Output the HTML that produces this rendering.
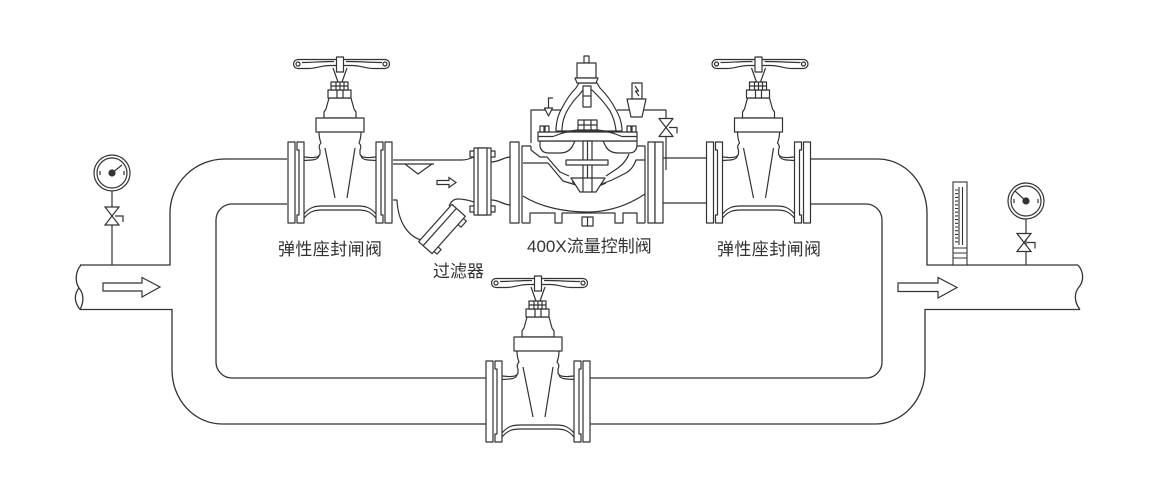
<!DOCTYPE html>
<html><head><meta charset="utf-8">
<style>
html,body{margin:0;padding:0;background:#fff;}
svg{display:block;}
text{font-family:"Liberation Sans","Noto Sans CJK SC",sans-serif;font-size:17px;fill:#333;}
</style></head><body>
<svg width="1158" height="500" viewBox="0 0 1158 500" xmlns="http://www.w3.org/2000/svg">
<defs>
<g id="gv" fill="#fff" stroke="#333" stroke-width="1.2" stroke-linejoin="round">
  <!-- body top / neck -->
  <path fill="none" d="M-36,-2 L-30,-1.5 Q-21,-1 -20,-5 L-20,-9 Q-22,-13 -19,-16 Q-21,-21 -21,-27 M21,-27 Q21,-21 19,-16 Q22,-13 20,-9 L20,-5 Q21,-1 30,-1.5 L36,-2"/>
  <path fill="none" d="M-36,1.5 L-28,1 Q-22,0.5 -21,-3 M36,1.5 L28,1 Q22,0.5 21,-3"/>
  <!-- wedge -->
  <path fill="none" d="M-15,-11 L-5,39 M15,-11 L7,39"/>
  <!-- bottom band -->
  <path fill="none" d="M-36,55 C-30,48 -25,47 -18,47 H18 C25,47 30,48 36,55 M-36,59 C-30,52 -25,51 -18,51 H18 C25,51 30,52 36,59"/>
  <!-- flanges -->
  <rect x="-52" y="-17" width="7" height="81"/>
  <path d="M-43,-17 H-36 V64 H-43 V56 H-41 V-9 H-43 Z"/>
  <path d="M36,-17 H43 V-9 H41 V56 H43 V64 H36 Z"/>
  <rect x="45" y="-17" width="7" height="81"/>
  <!-- upper body -->
  <path d="M-16,-41 L-16,-47 L-14,-50 L-11,-61 L11,-61 L14,-50 L16,-47 L16,-41 Z"/>
  <rect x="-24" y="-41" width="48" height="14"/>
  <rect x="-12" y="-69" width="23" height="8"/>
  <rect x="-9" y="-77" width="17" height="8"/>
  <path fill="none" d="M-4,-77 V-69 M0,-77 V-69 M4,-77 V-69 M-9,-73 H8 M-3,-69 V-61 M3,-69 V-61"/>
  <!-- stem V -->
  <path fill="none" d="M-7,-91 L-2,-77 M7,-91 L2,-77"/>
  <!-- handwheel -->
  <path d="M-42,-99.5 H45 A4.5,4.5 0 0 1 45,-90.5 H33 C27,-90.5 20,-93.5 12,-93.5 H-10 C-18,-93.5 -25,-90.5 -31,-90.5 H-42 A4.5,4.5 0 0 1 -42,-99.5 Z"/>
  <path fill="none" d="M-38,-96.5 C-28,-96.5 -20,-97.5 -6,-97.5 M6,-97.5 C20,-97.5 30,-96.5 42,-96.5"/>
  <circle cx="-42" cy="-95" r="2"/>
  <circle cx="45" cy="-95" r="2"/>
  <rect x="-3.5" y="-102" width="7" height="15"/>
</g>
<g id="bow" fill="#fff" stroke="#333" stroke-width="1.2">
  <path d="M-7,-9 H7 L-7,9 H7 Z"/>
  <path fill="none" d="M3,0 H11 V6"/>
</g>
</defs>

<!-- ===== PIPES ===== -->
<g fill="none" stroke="#333" stroke-width="1.3">
  <path d="M80,265 H170 V213 A55,54 0 0 1 225,159 H287"/>
  <path d="M80,309.5 H172 V370 A50,54 0 0 0 222,424 H486"/>
  <path d="M287,204 H232 A16,16 0 0 0 216,220 V362 A16,16 0 0 0 232,378 H486"/>
  <path d="M810,159 H878 A49,54 0 0 1 927,213 V265 H1078"/>
  <path d="M810,204 H866 A16,16 0 0 1 882,220 V362 A16,16 0 0 1 866,378 H590"/>
  <path d="M1080,309.5 H925 V370 A50,54 0 0 1 875,424 H590"/>
  <path d="M663,158 H707 M663,203 H707"/>
  <path d="M491,162 C500,162 503,157 511,157 M491,200 C500,200 503,205 511,205"/>
  <!-- pipe breaks -->
  <path d="M81,265 C75,272 75,282 79,288 C84,294 84,302 80,309.5 M79,288 C74,294 74,302 80,309.5"/>
  <path d="M1078,265 C1084,272 1084,281 1079,287 C1074,293 1074,302 1080,309.5"/>
</g>

<!-- arrows -->
<g fill="#fff" stroke="#333" stroke-width="1.2">
  <path d="M103,283 H142 V277.5 L160,287 L142,297 V291 H103 Z"/>
  <path d="M898,283 H938 V277.5 L957,287.5 L938,298 V291.5 H898 Z"/>
  <path d="M437,180.5 H449 V177.5 L456,182.5 L449,187.5 V184.5 H437 Z"/>
</g>

<!-- gate valves -->
<use href="#gv" transform="translate(340,159)"/>
<use href="#gv" transform="translate(758.5,159)"/>
<use href="#gv" transform="translate(538,378)"/>

<!-- ===== STRAINER ===== -->
<g fill="#fff" stroke="#333" stroke-width="1.2" stroke-linejoin="round">
  <path fill="none" d="M393,160 H462 Q467,160 474,157"/>
  <path fill="none" d="M393,164 H434"/>
  <path fill="none" d="M405,164 L418,174 L432,164"/>
  <path fill="none" d="M393,200 H397 C398,222 408,236 421,240"/>
  <path fill="none" d="M449,206 Q452,199 458,199 Q465,199 474,202"/>
  <g transform="translate(442,229) rotate(-48.3)">
    <rect x="14" y="8" width="8" height="5"/>
    <rect x="-22" y="8" width="6" height="5"/>
    <rect x="-25" y="-9" width="50" height="18"/>
    <path fill="none" d="M-25,-3 H25"/>
  </g>
  <rect x="470" y="151" width="25" height="6"/>
  <rect x="470" y="206" width="25" height="6"/>
  <rect x="474" y="148" width="17" height="67"/>
  <rect x="478" y="148" width="9" height="67"/>
</g>

<!-- ===== 400X VALVE ===== -->
<g fill="#fff" stroke="#333" stroke-width="1.2" stroke-linejoin="round">
  <!-- tubes -->
  <path fill="none" d="M531,143 V110 H562"/>
  <path fill="none" d="M617,110 H666 V170"/>
  <path fill="none" d="M553,98 H548.5 V108"/>
  <path d="M544.5,108 H552.5 L548.5,116 Z"/>
  <use href="#bow" transform="translate(666,127.5)"/>
  <!-- small pilot -->
  <rect x="632" y="83" width="10" height="16"/>
  <path fill="none" d="M635,86 L638.5,91 L635.5,91 L639,96"/>
  <path d="M627,99 H646 L642,117 H631 Z"/>
  <!-- flanges -->
  <rect x="510" y="142" width="9" height="81"/>
  <rect x="648" y="142" width="7" height="81"/>
  <rect x="655" y="142" width="8" height="81"/>
  <!-- body walls -->
  <path fill="none" d="M522,223 V146 H531 M645,223 V146 H637"/>
  <path fill="none" d="M522,223 H530 V213 H555 V223 H562 V213 H615 V223 H623 V213 H637 V223 H645"/>
  <rect x="582" y="217" width="11" height="9"/>
  <path fill="none" d="M587.5,217 V226"/>
  <!-- bottom chamber curve -->
  <path fill="none" d="M523,196 C540,207 565,212 587,212 C610,212 630,204 645,194"/>
  <!-- partitions -->
  <path fill="none" d="M523,163 H548 L563,181 L576,185"/>
  <path fill="none" d="M531,146 V150 L540,157 H547 L560,172 L569,176"/>
  <path fill="none" d="M599,185 L612,180 L626,173 Q633,169 636,160 H645"/>
  <path fill="none" d="M606,176 L618,168 Q626,162 629,154"/>
  <path fill="none" d="M572,182 Q588,192 606,183"/>
  <!-- dome -->
  <path d="M556,131 Q556,118 562,108 Q568,96 576,88 L579,83 H597 L600,88 Q610,98 616,110 Q622,120 622,131 Z"/>
  <path fill="none" d="M562,131 Q562,120 567,111 Q572,102 579,95 L583,90 H592 L597,95 Q604,102 610,111 Q615,120 616,131"/>
  <rect x="583" y="86" width="8" height="21"/>
  <path fill="none" d="M583,96 H591"/>
  <!-- pilot on top -->
  <rect x="584" y="56" width="5" height="7"/>
  <rect x="577" y="63" width="19" height="15"/>
  <path d="M575,78 H598 L596,83 H577 Z"/>
  <!-- lower dishes -->
  <path d="M540,141 V146 Q541,153 549,153 H560 Q568,153 572,147 L575,141 Z"/>
  <path d="M603,141 L606,147 Q610,153 618,153 H629 Q636,153 637,146 V141 Z"/>
  <!-- diaphragm flange -->
  <rect x="538" y="132" width="99" height="9"/>
  <path fill="none" d="M538,136.5 H553 Q588,122 622,136.5 H637"/>
  <rect x="540" y="126" width="4" height="6"/>
  <rect x="545" y="126" width="4" height="6"/>
  <rect x="627" y="126" width="4" height="6"/>
  <rect x="632" y="126" width="4" height="6"/>
  <rect x="578" y="120" width="19" height="10"/>
  <path fill="none" d="M584,120 V130 M591,120 V130 M578,125 H597"/>
  <!-- stem & discs -->
  <rect x="583" y="141" width="9" height="50"/>
  <path fill="none" d="M587.5,141 V191"/>
  <path d="M566,160 H608 V165 H566 Z"/>
  <path d="M571,178 H605 L596,192 H580 Z"/>
  <path fill="none" d="M583,178 V192 M592,178 V192"/>
</g>

<!-- ===== GAUGES ===== -->
<g fill="none" stroke="#333" stroke-width="1.2">
  <path d="M112,191 V265"/>
  <circle cx="112" cy="173" r="18" fill="#fff"/>
  <circle cx="112" cy="173" r="15"/>
  <path d="M100,171 V175 M124,171 V175 M112,173 L122,165"/>
  <circle cx="112" cy="173" r="3" fill="#333"/>

  <path d="M1026,219 V265"/>
  <circle cx="1026" cy="201" r="18" fill="#fff"/>
  <circle cx="1026" cy="201" r="15"/>
  <path d="M1014,199 V203 M1038,199 V203 M1026,201 L1015,191"/>
  <circle cx="1026" cy="201" r="3" fill="#333"/>
</g>
<use href="#bow" transform="translate(112,216)"/>
<use href="#bow" transform="translate(1024,242.5)"/>

<!-- ===== FLOWMETER ===== -->
<g fill="none" stroke="#333" stroke-width="1.1">
  <rect x="953" y="182" width="14" height="83" fill="#fff"/>
  <path d="M959,187 V245 M962.5,187 V245"/>
  <path d="M955,190 H958 M955,193.7 H958 M955,197.4 H958 M955,201.1 H958 M955,204.8 H958 M955,208.5 H958 M955,212.2 H958 M955,215.9 H958 M955,219.6 H958 M955,223.3 H958 M955,227 H958 M955,230.7 H958 M955,234.4 H958 M955,238.1 H958 M955,241.8 H958"/>
  <path d="M953,248 H967 M953,253 H967 M953,258 H967"/>
</g>

<!-- ===== LABELS ===== -->
<text x="278" y="255" letter-spacing="0.4">弹性座封闸阀</text>
<text x="717" y="255" letter-spacing="0.4">弹性座封闸阀</text>
<text x="527" y="252">400X流量控制阀</text>
<text x="433" y="277">过滤器</text>
</svg>
</body></html>
